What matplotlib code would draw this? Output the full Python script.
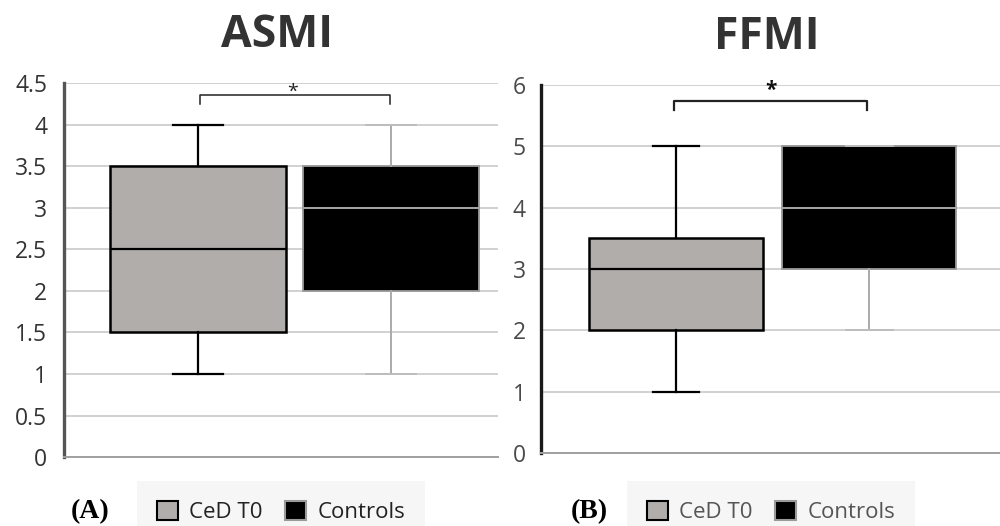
import matplotlib.pyplot as plt
from matplotlib.patches import Patch

plt.rcParams['font.family'] = ['Open Sans', 'DejaVu Sans']

groups = ["CeD T0", "Controls"]

# five-number summaries: whisker low, q1, median, q3, whisker high
asmi_ced = [1.0, 1.5, 2.5, 3.5, 4.0]
asmi_ctrl = [1.0, 2.0, 3.0, 3.5, 4.0]
ffmi_ced = [1.0, 2.0, 3.0, 3.5, 5.0]
ffmi_ctrl = [2.0, 3.0, 4.0, 5.0, 5.0]

asmi_ticks = [0, 0.5, 1, 1.5, 2, 2.5, 3, 3.5, 4, 4.5]
asmi_ticklabels = ["0", "0.5", "1", "1.5", "2", "2.5", "3", "3.5", "4", "4.5"]
ffmi_ticks = [0, 1, 2, 3, 4, 5, 6]

ced_color = "#b1adaa"
ctrl_color = "#000000"


def stats(v, label):
    return dict(whislo=v[0], q1=v[1], med=v[2], q3=v[3], whishi=v[4], label=label)


def draw_panel(ax, ced, ctrl, ticks, ticklabels, ylim, xlim, width, capw, pad, labelcolor):
    ax.set_ylim(*ylim)
    ax.set_xlim(*xlim)
    ax.set_yticks(ticks)
    ax.set_yticklabels(ticklabels)
    ax.grid(axis="y", color="#c9c9c9", lw=1.2, zorder=0)
    ax.set_axisbelow(True)

    b1 = ax.bxp([stats(ced, groups[0])], positions=[1], widths=width, capwidths=capw,
                patch_artist=True, showfliers=False, manage_ticks=False,
                boxprops=dict(facecolor=ced_color, edgecolor="black", lw=1.8),
                whiskerprops=dict(color="black", lw=1.6),
                capprops=dict(color="black", lw=1.6),
                medianprops=dict(color="black", lw=1.6))
    b2 = ax.bxp([stats(ctrl, groups[1])], positions=[2], widths=width, capwidths=capw,
                patch_artist=True, showfliers=False, manage_ticks=False,
                boxprops=dict(facecolor=ctrl_color, edgecolor="#9a9a9a", lw=1.3),
                whiskerprops=dict(color="#ababab", lw=1.4),
                capprops=dict(color="#bdbdbd", lw=1.4),
                medianprops=dict(color="#a8a8a8", lw=1.4))
    for b in (b1, b2):
        for k in b:
            for a in b[k]:
                a.set_zorder(3)

    ax.set_xticks([])
    ax.tick_params(axis="y", length=0, pad=pad, labelsize=16.5, labelcolor=labelcolor)
    for s in ("top", "right"):
        ax.spines[s].set_visible(False)
    ax.spines["bottom"].set_color("#a0a0a0")
    ax.spines["bottom"].set_linewidth(1.4)


fig = plt.figure(figsize=(10, 5.26), dpi=100)

ax1 = fig.add_axes([0.064, 0.131, 0.434, 0.711])
draw_panel(ax1, asmi_ced, asmi_ctrl, asmi_ticks, asmi_ticklabels, (0, 4.5),
           (0.306, 2.554), 0.912, 0.26, 12, "#333333")
ax1.spines["left"].set_color("#555555")
ax1.spines["left"].set_linewidth(2.4)

ax2 = fig.add_axes([0.541, 0.139, 0.459, 0.699])
draw_panel(ax2, ffmi_ced, ffmi_ctrl, ffmi_ticks, [str(t) for t in ffmi_ticks], (0, 6),
           (0.30, 2.676), 0.90, 0.24, 11, "#4a4a4a")
ax2.spines["left"].set_color("#1a1a1a")
ax2.spines["left"].set_linewidth(2.4)

# significance brackets
ax1.plot([1.01, 1.01, 1.995, 1.995], [4.25, 4.355, 4.355, 4.25], color="#222222", lw=1.1,
         clip_on=False, zorder=4)
ax1.text(1.49, 4.29, "*", ha="center", va="bottom", fontsize=14, color="#222222")
ax2.plot([0.99, 0.99, 1.99, 1.99], [5.6, 5.745, 5.745, 5.6], color="#222222", lw=1.6,
         clip_on=False, zorder=4)
ax2.text(1.49, 5.74, "*", ha="center", va="bottom", fontsize=15, fontweight="bold",
         color="#111111")

fig.text(0.277, 0.932, "ASMI", ha="center", va="center", fontsize=32,
         fontweight="bold", color="#333333")
fig.text(0.767, 0.928, "FFMI", ha="center", va="center", fontsize=32,
         fontweight="bold", color="#333333")

fig.text(0.090, 0.027, "(A)", ha="center", va="center", fontsize=20,
         fontweight="bold", family="Liberation Serif")
fig.text(0.589, 0.027, "(B)", ha="center", va="center", fontsize=20,
         fontweight="bold", family="Liberation Serif")

handles = [Patch(facecolor=ced_color, edgecolor="black", lw=1.5, label=groups[0]),
           Patch(facecolor=ctrl_color, edgecolor="#9a9a9a", lw=1.5, label=groups[1])]
for cx, col in ((0.281, "#222222"), (0.771, "#555555")):
    leg = fig.legend(handles=handles, loc="center", bbox_to_anchor=(cx, 0.027), ncol=2,
                     frameon=True, fontsize=16, handlelength=0.95, handleheight=0.95,
                     handletextpad=0.5, columnspacing=1.0, borderpad=0.9,
                     fancybox=False)
    leg.get_frame().set_facecolor("#f4f4f4")
    leg.get_frame().set_edgecolor("none")
    for t in leg.get_texts():
        t.set_color(col)

fig.savefig("out.png", dpi=100)
